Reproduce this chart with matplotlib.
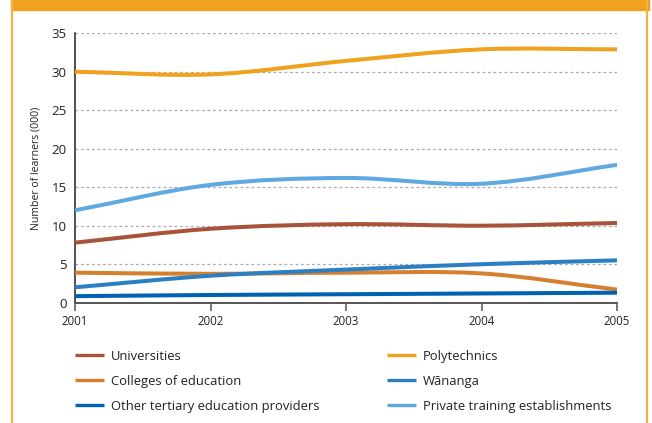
import numpy as np
import matplotlib
matplotlib.use("Agg")
import matplotlib.pyplot as plt
from matplotlib.path import Path
from matplotlib.patches import PathPatch, Rectangle
from matplotlib.lines import Line2D

plt.rcParams['font.family'] = ['Open Sans', 'DejaVu Sans']

# Learners (000) by provider type, 2001-2005
years = [2001, 2002, 2003, 2004, 2005]
universities = [7.8, 9.6, 10.2, 10.0, 10.35]
polytechnics = [30.0, 29.65, 31.4, 32.9, 32.9]
colleges = [3.9, 3.75, 3.9, 3.8, 1.7]
wananga = [2.0, 3.5, 4.3, 5.0, 5.5]
other = [0.85, 1.0, 1.1, 1.2, 1.3]
private = [12.0, 15.3, 16.2, 15.45, 17.9]

series = [
    ('Universities', universities, '#A8543A'),
    ('Polytechnics', polytechnics, '#F0A21E'),
    ('Colleges of education', colleges, '#D5802F'),
    ('Wānanga', wananga, '#2B80C4'),
    ('Other tertiary education providers', other, '#0062B0'),
    ('Private training establishments', private, '#5EAAE0'),
]


def smooth_path(x, y):
    """Catmull-Rom curve through the points, as cubic Bezier segments."""
    x = np.asarray(x, float)
    y = np.asarray(y, float)
    n = len(x)
    tx = np.zeros(n)
    ty = np.zeros(n)
    for i in range(n):
        a = max(i - 1, 0)
        b = min(i + 1, n - 1)
        tx[i] = (x[b] - x[a]) / (b - a)
        ty[i] = (y[b] - y[a]) / (b - a)
    verts = [(x[0], y[0])]
    codes = [Path.MOVETO]
    for i in range(n - 1):
        verts += [(x[i] + tx[i] / 3, y[i] + ty[i] / 3),
                  (x[i + 1] - tx[i + 1] / 3, y[i + 1] - ty[i + 1] / 3),
                  (x[i + 1], y[i + 1])]
        codes += [Path.CURVE4] * 3
    return Path(verts, codes)


fig = plt.figure(figsize=(6.52, 4.23), dpi=100)
ax = fig.add_axes([75 / 652, 1 - 302.7 / 423, 542 / 652, 269.5 / 423])

# orange frame round the panel
fig.patches.append(Rectangle((11 / 652, 1 - 10 / 423), 638 / 652, 10 / 423,
                             transform=fig.transFigure, color='#F0A21E', zorder=0))
for xl in (12 / 652, 647 / 652):
    fig.add_artist(Line2D([xl, xl], [0, 1], transform=fig.transFigure,
                          color='#F3B24A', lw=1.6))

draw_order = [1, 5, 0, 2, 3, 4]
for k in draw_order:
    name, vals, col = series[k]
    ax.add_patch(PathPatch(smooth_path(years, vals), fill=False, edgecolor=col,
                           lw=2.9, capstyle='butt', zorder=3 + k * 0.1))

ax.set_xlim(2001, 2005)
ax.set_ylim(0, 35)
ax.set_xticks(years)
ax.set_yticks(range(0, 36, 5))
ax.yaxis.grid(True, color='#AAAAAA', lw=0.9, linestyle=(0, (2.2, 2.2)))
ax.set_axisbelow(True)

for s in ('top', 'right'):
    ax.spines[s].set_visible(False)
ax.spines['left'].set_color('#222222')
ax.spines['left'].set_linewidth(1.1)
ax.spines['bottom'].set_color('#555555')
ax.spines['bottom'].set_linewidth(1.4)

ax.tick_params(axis='y', length=0, pad=6, labelsize=9.5, labelcolor='#222222')
ax.tick_params(axis='x', direction='out', length=6, width=1.1, color='#555555',
               pad=3, labelsize=8.3, labelcolor='#222222')
ax.set_ylabel('Number of learners (000)', fontsize=7.6, color='#222222', labelpad=7)

# legend in two columns
left_handles, right_handles = [], []
for i, (name, vals, col) in enumerate(series):
    h = Line2D([], [], color=col, lw=2.4, solid_capstyle='butt', label=name)
    (left_handles if i % 2 == 0 else right_handles).append(h)

for hs, x0 in ((left_handles, 75 / 652), (right_handles, 387 / 652)):
    fig.legend(handles=hs, loc='upper left', bbox_to_anchor=(x0, 1 - 350 / 423),
               frameon=False, fontsize=9.4, borderpad=0, borderaxespad=0,
               handlelength=2.25, handletextpad=0.5, labelspacing=0.92,
               labelcolor='#222222')

fig.savefig('out.png', dpi=100)
